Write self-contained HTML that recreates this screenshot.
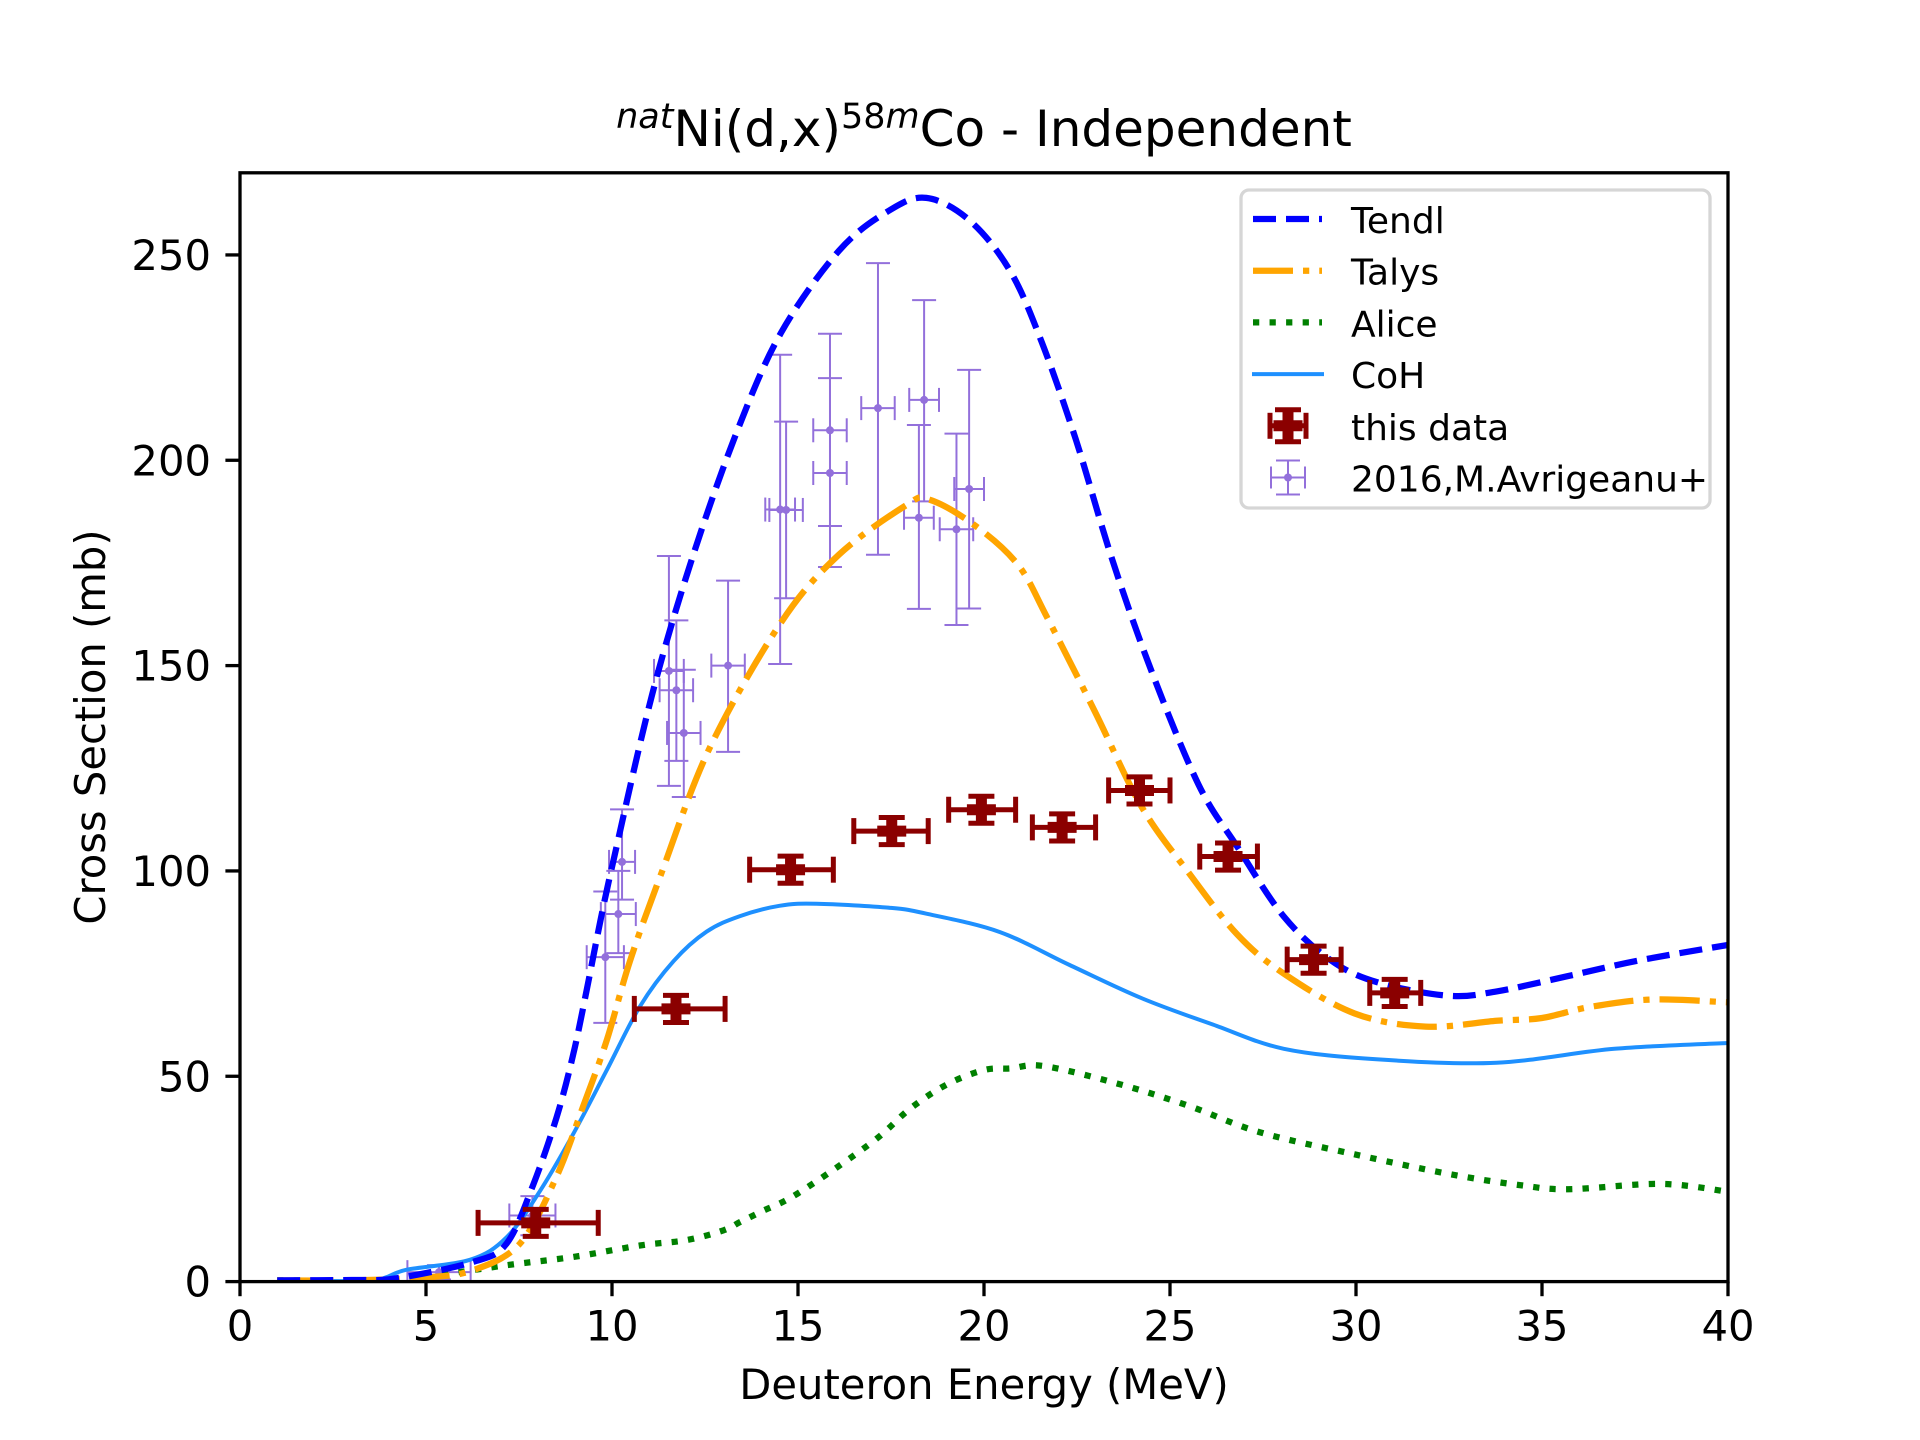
<!DOCTYPE html>
<html><head><meta charset="utf-8"><style>
html,body{margin:0;padding:0;background:#fff;}
svg{display:block;font-family:"DejaVu Sans","Liberation Sans",sans-serif;}
</style></head><body>
<svg id="chart" width="1920" height="1440" viewBox="0 0 1920 1440" xmlns="http://www.w3.org/2000/svg">
<rect width="1920" height="1440" fill="#fff"/>
<text x="984" y="146" text-anchor="middle" font-size="50"><tspan font-size="35" font-style="italic" dy="-18">nat</tspan><tspan dy="18">Ni(d,x)</tspan><tspan font-size="35" dy="-18">58</tspan><tspan font-size="35" font-style="italic">m</tspan><tspan dy="18">Co - Independent</tspan></text>
<g id="plot"></g>
<text x="984" y="1399" text-anchor="middle" font-size="41.7">Deuteron Energy (MeV)</text>
<text transform="translate(105,727) rotate(-90)" text-anchor="middle" font-size="41.7">Cross Section (mb)</text>
<g id="legend"></g>
</svg>
<script>
const xTicks=[0,5,10,15,20,25,30,35,40];
const yTicks=[0,50,100,150,200,250];
const tendlX=[1,3,4.2,6.27,7.17,7.88,8.51,8.95,9.32,9.68,10.05,11.08,12.15,13.36,14.54,16.1,17.43,18.45,19.6,20.67,21.5,22.47,23.44,24.5,25.77,26.8,28.06,29.33,30.6,32.5,33.8,35.7,37.6,40];
const tendlY=[0.3,0.4,0.8,4.8,9.3,23.5,40,55,71,87.5,103,143,176,207,231,251,260.7,263.9,258.5,246.6,230,205,176,148.7,121,106,88.9,78.2,72.8,69.6,70.7,74.4,78.2,82];
const talysX=[1,3,5,6.27,7.53,8.51,9.22,9.86,10.48,11.3,12.63,14.55,16.1,17.9,18.5,19.7,20.9,21.7,22.97,24.24,25.5,26.8,28.06,29.96,31.87,33.78,35.0,36.3,37.97,40];
const talysY=[0.3,0.3,1,2.8,9.3,25.6,42.6,58.8,78,98.8,130,160.6,177,189,190.5,184.5,174.7,161.7,139,115.6,99.6,84.6,75,65.3,62.1,63.5,64.2,66.9,68.7,68];
const aliceX=[1,4.3,5.38,7.17,8.95,10.75,12,13,13.44,14,15,17,18,19,20,20.7,21.6,23.6,25.5,27.4,29.96,32.5,34.4,35.7,38.2,40];
const aliceY=[0.3,0.3,1.6,4,6,8.8,10.1,12.5,14.5,17,21.5,34,42,48,51.5,51.9,52.5,48.2,42.8,36.4,31,26.2,23.5,22.5,23.8,21.9];
const cohX=[1,3.5,4.48,6.18,7.17,8.06,8.96,9.86,10.75,11.65,12.54,13.44,14.5,15.5,17.5,18.5,20.43,22.3,24.24,26.15,28.06,30.6,33.78,36.95,40];
const cohY=[0.3,0.3,2.9,5.3,10.8,22,36,51.5,67,78,85.2,89,91.5,92,91,89.5,85.1,77.1,69,62.6,56.7,54.1,53.3,56.7,58.1];
const dataX=[7.95,11.72,14.8,17.52,19.93,22.1,24.18,26.56,28.86,31.04];
const dataY=[14.3,66.4,100.3,109.7,114.9,110.6,119.6,103.5,78.4,70.3];
const dataXlo=[6.4,10.6,13.7,16.5,19.05,21.3,23.35,25.8,28.15,30.37];
const dataXhi=[9.63,13.04,15.95,18.5,20.85,23.0,25.0,27.35,29.6,31.74];
const dataYerr=[3.3,3.3,3.3,3.3,3.3,3.3,3.3,3.3,3.3,3.3];
const avX=[5.35,7.86,9.82,10.17,10.27,11.53,11.73,11.93,13.12,14.52,14.68,15.86,15.86,17.15,18.25,18.39,19.26,19.6];
const avY=[2.3,16.1,79,89.5,102.2,148.7,144,133.6,150,188,187.9,207.3,196.9,212.7,186,214.7,183.2,193];
const avYlo=[0.5,11.3,63,80,93,120.7,126.8,118,129,150.4,166.4,184,174,177,163.8,190,159.9,163.9];
const avYhi=[4,20.8,95,100,115,176.7,161,149,170.7,225.7,209.4,230.8,220,248,208.6,239,206.5,222];
const avXerr=[0.85,0.62,0.5,0.47,0.35,0.4,0.45,0.45,0.45,0.4,0.45,0.45,0.45,0.45,0.4,0.4,0.45,0.4];

const L=240,R=1728,T=172.8,B=1281.6,XMAX=40,YMAX=270;
const sx=v=>L+(R-L)*v/XMAX;
const sy=v=>B-(B-T)*v/YMAX;
const NS="http://www.w3.org/2000/svg";
const plot=document.getElementById('plot');
function mk(tag,attrs,parent){const e=document.createElementNS(NS,tag);for(const k in attrs)e.setAttribute(k,attrs[k]);(parent||plot).appendChild(e);return e;}

const defs=mk('defs',{});
const cp=mk('clipPath',{id:'clip'},defs);
mk('rect',{x:L,y:T,width:R-L,height:B-T},cp);

function smoothPath(xs,ys){
  const p=xs.map((x,i)=>[sx(x),sy(ys[i])]);
  let d='M'+p[0][0].toFixed(1)+','+p[0][1].toFixed(1);
  for(let i=0;i<p.length-1;i++){
    const p0=p[i-1]||p[i],p1=p[i],p2=p[i+1],p3=p[i+2]||p2;
    const c1=[p1[0]+(p2[0]-p0[0])/6,p1[1]+(p2[1]-p0[1])/6];
    const c2=[p2[0]-(p3[0]-p1[0])/6,p2[1]-(p3[1]-p1[1])/6];
    d+='C'+c1.map(v=>v.toFixed(1)).join(',')+' '+c2.map(v=>v.toFixed(1)).join(',')+' '+p2[0].toFixed(1)+','+p2[1].toFixed(1);
  }
  return d;
}
const curves=mk('g',{'clip-path':'url(#clip)'});



const avG=mk('g',{},curves);


avX.forEach((x,i)=>{
  const g=mk('g',{stroke:'#9370db','stroke-width':2,fill:'#9370db'},avG);
  
  
  const cx=sx(x),cy=sy(avY[i]),x1=sx(x-avXerr[i]),x2=sx(x+avXerr[i]),y1=sy(avYlo[i]),y2=sy(avYhi[i]);
  mk('line',{x1:x1,y1:cy,x2:x2,y2:cy},g);
  mk('line',{x1:cx,y1:y1,x2:cx,y2:y2},g);
  mk('line',{x1:x1,y1:cy-12,x2:x1,y2:cy+12},g);
  mk('line',{x1:x2,y1:cy-12,x2:x2,y2:cy+12},g);
  mk('line',{x1:cx-12,y1:y1,x2:cx+12,y2:y1},g);
  mk('line',{x1:cx-12,y1:y2,x2:cx+12,y2:y2},g);
  mk('circle',{cx:cx,cy:cy,r:4,stroke:'none'},g);
});

const alice=mk('path',{d:smoothPath(aliceX,aliceY),fill:'none',stroke:'#008000','stroke-width':6.25,'stroke-dasharray':'6.25 10.3'},curves);

const coh=mk('path',{d:smoothPath(cohX,cohY),fill:'none',stroke:'#1e90ff','stroke-width':4},curves);

const talys=mk('path',{d:smoothPath(talysX,talysY),fill:'none',stroke:'#ffa500','stroke-width':6.25,'stroke-dasharray':'40 10 6.25 10'},curves);

const tendl=mk('path',{d:smoothPath(tendlX,tendlY),fill:'none',stroke:'#0000ff','stroke-width':6.25,'stroke-dasharray':'23 10'},curves);


function plusPath(cx,cy,s,w){
  const a=s/2,b=w/2;
  return `M${cx-b},${cy-a}H${cx+b}V${cy-b}H${cx+a}V${cy+b}H${cx+b}V${cy+a}H${cx-b}V${cy+b}H${cx-a}V${cy-b}H${cx-b}Z`;
}
const dG=mk('g',{},curves);


dataX.forEach((x,i)=>{
  const g=mk('g',{stroke:'#8b0000','stroke-width':5,fill:'#8b0000'},dG);
  
  
  const cx=sx(x),cy=sy(dataY[i]),x1=sx(dataXlo[i]),x2=sx(dataXhi[i]),y1=sy(dataY[i]-dataYerr[i]),y2=sy(dataY[i]+dataYerr[i]);
  mk('line',{x1:x1,y1:cy,x2:x2,y2:cy},g);
  mk('line',{x1:cx,y1:y1,x2:cx,y2:y2,'stroke-width':8},g);
  mk('line',{x1:x1,y1:cy-13,x2:x1,y2:cy+13},g);
  mk('line',{x1:x2,y1:cy-13,x2:x2,y2:cy+13},g);
  mk('line',{x1:cx-13,y1:y1,x2:cx+13,y2:y1},g);
  mk('line',{x1:cx-13,y1:y2,x2:cx+13,y2:y2},g);
  mk('path',{d:plusPath(cx,cy,29,11),stroke:'none'},g);
});

const frame=mk('rect',{x:L,y:T,width:R-L,height:B-T,fill:'none',stroke:'#000','stroke-width':3.3});

xTicks.forEach(v=>{
  const X=sx(v);
  const t=mk('line',{x1:X,y1:B,x2:X,y2:B+14.6,stroke:'#000','stroke-width':3.3});
  
  const l=mk('text',{x:X,y:B+59,'text-anchor':'middle','font-size':41.7});
  l.textContent=v;
  
});
yTicks.forEach(v=>{
  const Y=sy(v);
  const t=mk('line',{x1:L-14.6,y1:Y,x2:L,y2:Y,stroke:'#000','stroke-width':3.3});
  
  const l=mk('text',{x:L-29,y:Y+15,'text-anchor':'end','font-size':41.7});
  l.textContent=v;
  
});

const lg=document.getElementById('legend');
mk('rect',{x:1241,y:190,width:469,height:318,rx:8,fill:'#fff','fill-opacity':0.8,stroke:'#d6d6d6','stroke-width':3.3},lg);
const entries=[['Tendl'],['Talys'],['Alice'],['CoH'],['this data'],['2016,M.Avrigeanu+']];
entries.forEach((e,i)=>{
  const cy=219+i*51.7;
  const g=mk('g',{},lg);
  
  
  if(i===0) mk('line',{x1:1253,y1:cy,x2:1322,y2:cy,stroke:'#0000ff','stroke-width':6.25,'stroke-dasharray':'23 10'},g);
  if(i===1) mk('line',{x1:1253,y1:cy,x2:1322,y2:cy,stroke:'#ffa500','stroke-width':6.25,'stroke-dasharray':'40 10 6.25 10'},g);
  if(i===2) mk('line',{x1:1253,y1:cy,x2:1322,y2:cy,stroke:'#008000','stroke-width':6.25,'stroke-dasharray':'6.25 10.3'},g);
  if(i===3) mk('line',{x1:1252,y1:cy,x2:1324,y2:cy,stroke:'#1e90ff','stroke-width':4},g);
  if(i===4){
    const h=mk('g',{stroke:'#8b0000','stroke-width':5,fill:'#8b0000'},g);
    mk('line',{x1:1270,y1:cy,x2:1306,y2:cy},h);
    mk('line',{x1:1288,y1:cy-16,x2:1288,y2:cy+16,'stroke-width':8},h);
    mk('line',{x1:1270,y1:cy-13,x2:1270,y2:cy+13},h);
    mk('line',{x1:1306,y1:cy-13,x2:1306,y2:cy+13},h);
    mk('line',{x1:1275,y1:cy-16,x2:1301,y2:cy-16},h);
    mk('line',{x1:1275,y1:cy+16,x2:1301,y2:cy+16},h);
    mk('path',{d:plusPath(1288,cy,29,11),stroke:'none'},h);
  }
  if(i===5){
    const h=mk('g',{stroke:'#9370db','stroke-width':2,fill:'#9370db'},g);
    mk('line',{x1:1271,y1:cy,x2:1305,y2:cy},h);
    mk('line',{x1:1288,y1:cy-17,x2:1288,y2:cy+17},h);
    mk('line',{x1:1271,y1:cy-11,x2:1271,y2:cy+11},h);
    mk('line',{x1:1305,y1:cy-11,x2:1305,y2:cy+11},h);
    mk('line',{x1:1276,y1:cy-17,x2:1300,y2:cy-17},h);
    mk('line',{x1:1276,y1:cy+17,x2:1300,y2:cy+17},h);
    mk('circle',{cx:1288,cy:cy,r:4,stroke:'none'},h);
  }
  const t=mk('text',{x:1351,y:cy+14,'font-size':36},g);
  t.textContent=e[0];
  
  
});
</script>
</body></html>
